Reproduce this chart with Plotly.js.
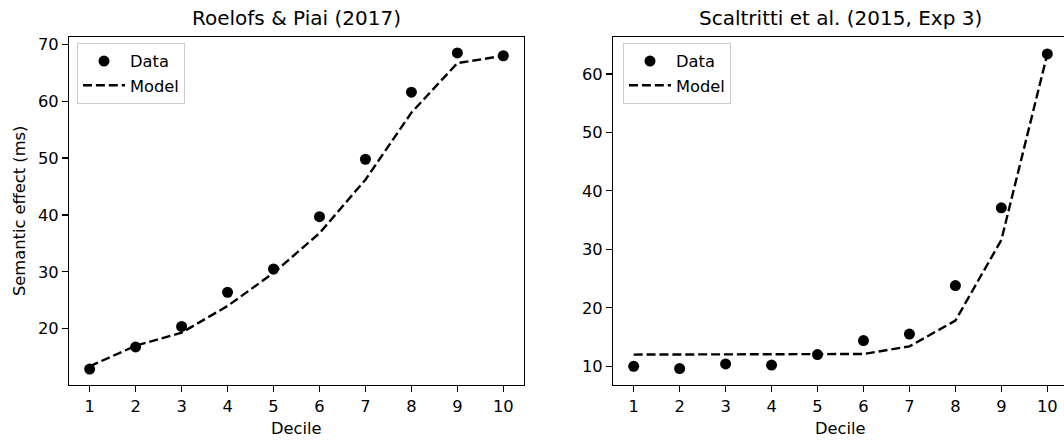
<!DOCTYPE html>
<html>
<head>
<meta charset="utf-8">
<script src="https://cdn.plot.ly/plotly-3.0.1.min.js"></script>
<style>html,body{margin:0;padding:0;background:#fff;}#chart{width:1064px;height:440px;}</style>
</head>
<body>
<div id="chart"></div>
<script>
// Data
var deciles = [1, 2, 3, 4, 5, 6, 7, 8, 9, 10];
var roelofsData  = [12.9, 16.8, 20.4, 26.4, 30.5, 39.7, 49.8, 61.6, 68.5, 68.0];
var roelofsModel = [13.4, 17.0, 19.3, 24.0, 29.8, 36.8, 46.2, 58.0, 66.7, 68.0];
var scaltrittiData  = [10.0, 9.6, 10.4, 10.2, 12.0, 14.4, 15.5, 23.8, 37.1, 63.4];
var scaltrittiModel = [12.0, 12.0, 12.0, 12.0, 12.0, 12.1, 13.4, 17.8, 31.6, 63.4];
var leftTitle = "Roelofs & Piai (2017)";
var rightTitle = "Scaltritti et al. (2015, Exp 3)";
var xLabel = "Decile";
var yLabel = "Semantic effect (ms)";
var leftYTicks = [20, 30, 40, 50, 60, 70];
var rightYTicks = [10, 20, 30, 40, 50, 60];

var W = 1064, H = 440;
var FONT = "DejaVu Sans, Verdana, sans-serif";
var tickSize = 16.3, titleSize = 20;
var px = function(x){ return x / W; };
var py = function(y){ return 1 - y / H; };

var markerStyle = {color: "#000", size: 11};
var lineStyle = {color: "#000", width: 2.4, dash: "9px,3.9px"};

var traces = [
  {x: deciles, y: roelofsData, type: "scatter", mode: "markers", name: "Data",
   marker: markerStyle, xaxis: "x", yaxis: "y", legend: "legend"},
  {x: deciles, y: roelofsModel, type: "scatter", mode: "lines", name: "Model",
   line: lineStyle, xaxis: "x", yaxis: "y", legend: "legend"},
  {x: deciles, y: scaltrittiData, type: "scatter", mode: "markers", name: "Data",
   marker: markerStyle, xaxis: "x2", yaxis: "y2", legend: "legend2"},
  {x: deciles, y: scaltrittiModel, type: "scatter", mode: "lines", name: "Model",
   line: lineStyle, xaxis: "x2", yaxis: "y2", legend: "legend2"}
];

function axisBase() {
  return {
    showgrid: false, zeroline: false, showline: true, linecolor: "#000", linewidth: 1.3,
    ticks: "outside", ticklen: 5.7, tickwidth: 1.3, tickcolor: "#000",
    tickfont: {family: FONT, size: tickSize, color: "#000"},
    automargin: false, fixedrange: true
  };
}

var yTop = 37, yBot = 385;
var leftL = 69, leftR = 524, rightL = 613;
// right panel continues beyond the picture edge (right spine at ~1068px)
var xPerUnit = (leftR - leftL) / 9.9;
var rightVisibleMax = 0.55 + (W - rightL) / xPerUnit;

var xa1 = Object.assign(axisBase(), {domain: [px(leftL), px(leftR)], range: [0.55, 10.45],
  tickvals: deciles, anchor: "y", mirror: true});
var xa2 = Object.assign(axisBase(), {domain: [px(rightL), 1], range: [0.55, rightVisibleMax],
  tickvals: deciles, anchor: "y2", mirror: true});
var ya1 = Object.assign(axisBase(), {domain: [py(yBot), py(yTop)], range: [10.1, 71.3],
  tickvals: leftYTicks, anchor: "x", mirror: true});
var ya2 = Object.assign(axisBase(), {domain: [py(yBot), py(yTop)], range: [6.8, 66.3],
  tickvals: rightYTicks, anchor: "x2", mirror: false});

function legendStyle(xpx) {
  return {x: px(xpx), y: py(43), xanchor: "left", yanchor: "top",
    bgcolor: "rgba(255,255,255,0.8)", bordercolor: "#cccccc", borderwidth: 1,
    font: {family: FONT, size: tickSize, color: "#000"}, itemwidth: 42, tracegroupgap: 0};
}

var layout = {
  width: W, height: H,
  margin: {l: 0, r: 0, t: 0, b: 0, pad: 0},
  paper_bgcolor: "#fff", plot_bgcolor: "#fff",
  font: {family: FONT, size: tickSize, color: "#000"},
  showlegend: true,
  xaxis: xa1, yaxis: ya1, xaxis2: xa2, yaxis2: ya2,
  legend: legendStyle(77),
  legend2: legendStyle(623),
  annotations: [
    {text: leftTitle, xref: "paper", yref: "paper", x: px((leftL + leftR) / 2), y: py(18),
     xanchor: "center", yanchor: "middle", showarrow: false, font: {family: FONT, size: titleSize, color: "#000"}},
    {text: rightTitle, xref: "paper", yref: "paper", x: px((rightL + 1068) / 2), y: py(18),
     xanchor: "center", yanchor: "middle", showarrow: false, font: {family: FONT, size: titleSize, color: "#000"}},
    {text: xLabel, xref: "paper", yref: "paper", x: px((leftL + leftR) / 2), y: py(428),
     xanchor: "center", yanchor: "middle", showarrow: false, font: {family: FONT, size: tickSize, color: "#000"}},
    {text: xLabel, xref: "paper", yref: "paper", x: px((rightL + 1068) / 2), y: py(428),
     xanchor: "center", yanchor: "middle", showarrow: false, font: {family: FONT, size: tickSize, color: "#000"}},
    {text: yLabel, xref: "paper", yref: "paper", x: px(20), y: py((yTop + yBot) / 2),
     xanchor: "center", yanchor: "middle", textangle: -90, showarrow: false,
     font: {family: FONT, size: tickSize, color: "#000"}}
  ]
};

Plotly.newPlot("chart", traces, layout, {staticPlot: true, displayModeBar: false});
</script>
</body>
</html>
